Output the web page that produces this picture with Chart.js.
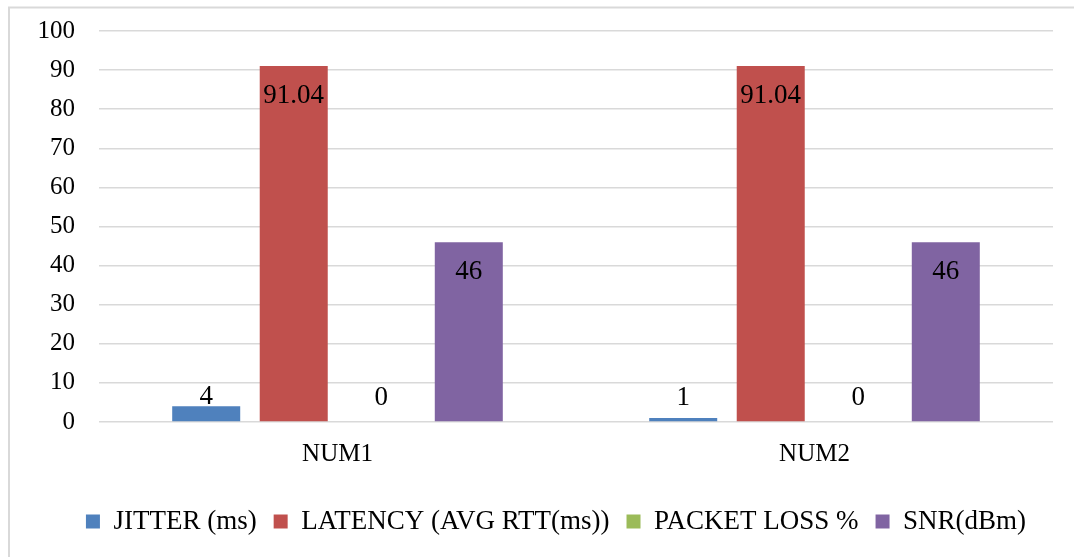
<!DOCTYPE html>
<html>
<head>
<meta charset="utf-8">
<script src="https://cdn.jsdelivr.net/npm/chart.js@4/dist/chart.umd.min.js"></script>
<style>
  html, body { margin: 0; padding: 0; background: #ffffff; }
  #wrap { position: relative; width: 1074px; height: 557px; }
</style>
</head>
<body>
<div id="wrap"><canvas id="chart" width="1074" height="557"></canvas></div>
<script>
// Link measurements per site
const categories = ['NUM1', 'NUM2'];
const jitter = [4, 1];
const latency = [91.04, 91.04];
const packetLoss = [0, 0];
const snr = [46, 46];
const yTicks = [0, 10, 20, 30, 40, 50, 60, 70, 80, 90, 100];

const seriesNames = ['JITTER (ms)', 'LATENCY (AVG RTT(ms))', 'PACKET LOSS %', 'SNR(dBm)'];
const seriesColors = ['#4F81BD', '#C0504D', '#9BBB59', '#8064A2'];

const FONT = '"Liberation Serif", "Times New Roman", serif';

// Light frame around the chart
const framePlugin = {
  id: 'frame',
  beforeDraw(chart) {
    const ctx = chart.ctx;
    ctx.save();
    ctx.strokeStyle = '#d9d9d9';
    ctx.lineWidth = 2;
    ctx.beginPath();
    ctx.moveTo(9, 557);
    ctx.lineTo(9, 7.5);
    ctx.lineTo(1074, 7.5);
    ctx.stroke();
    ctx.restore();
  }
};

// Nudge the legend row slightly right of the canvas centre
const legendShift = {
  id: 'legendShift',
  afterLayout(chart) {
    const lg = chart.legend;
    if (lg) { lg.left += 25; lg.right += 25; }
  }
};

// Value labels: inside the top of tall bars, above short ones
const valueLabels = {
  id: 'valueLabels',
  afterDatasetsDraw(chart) {
    const ctx = chart.ctx;
    const base = chart.scales.y.getPixelForValue(0);
    ctx.save();
    ctx.font = '27px ' + FONT;
    ctx.fillStyle = '#000000';
    ctx.textAlign = 'center';
    ctx.textBaseline = 'alphabetic';
    chart.data.datasets.forEach((ds, di) => {
      const meta = chart.getDatasetMeta(di);
      meta.data.forEach((bar, i) => {
        const v = ds.data[i];
        const inside = bar.y + 37;
        let yText;
        if (inside <= base - 4) {
          yText = inside;
        } else {
          yText = Math.min(bar.y - 2, base - 17);
        }
        ctx.fillText(String(v), bar.x, yText);
      });
    });
    ctx.restore();
  }
};

const values = [jitter, latency, packetLoss, snr];

new Chart(document.getElementById('chart'), {
  type: 'bar',
  data: {
    labels: categories,
    datasets: values.map((arr, k) => ({
      label: seriesNames[k],
      data: arr,
      backgroundColor: seriesColors[k],
      borderWidth: 0,
      categoryPercentage: 0.734,
      barPercentage: 0.777
    }))
  },
  options: {
    responsive: false,
    animation: false,
    layout: { padding: { top: 31, left: 9, right: 21, bottom: 12 } },
    plugins: {
      legend: {
        position: 'bottom',
        labels: {
          boxWidth: 14,
          boxHeight: 14,
          padding: 17,
          color: '#000000',
          font: { family: FONT, size: 27 }
        }
      },
      tooltip: { enabled: false }
    },
    scales: {
      x: {
        grid: { display: false, drawTicks: false },
        border: { display: false },
        ticks: {
          color: '#000000',
          padding: 17,
          font: { family: FONT, size: 25 }
        },
        afterFit(scale) { scale.height = 69; }
      },
      y: {
        min: 0,
        max: 100,
        afterBuildTicks(scale) { scale.ticks = yTicks.map(v => ({ value: v })); },
        grid: { color: '#d9d9d9', lineWidth: 1.5, drawTicks: false },
        border: { display: false },
        ticks: {
          color: '#000000',
          padding: 24,
          font: { family: FONT, size: 25 }
        },
        afterFit(scale) {
          scale.width = 90;
          scale.paddingTop = 0;
          scale.paddingBottom = 0;
        }
      }
    }
  },
  plugins: [framePlugin, legendShift, valueLabels]
});
</script>
</body>
</html>
